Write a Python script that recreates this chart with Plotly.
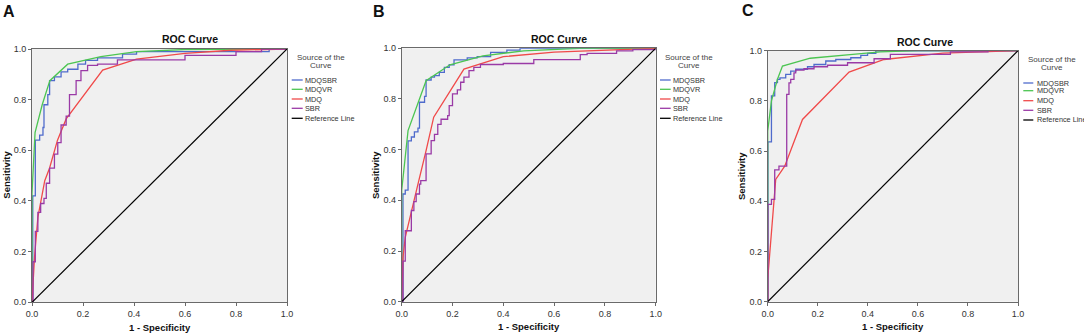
import plotly.graph_objects as go

W, H = 1084, 335

# ---------------- data ----------------
series_names = ["MDQSBR", "MDQVR", "MDQ", "SBR"]
panel_labels = ["A", "B", "C"]
tick_vals = [0.0, 0.2, 0.4, 0.6, 0.8, 1.0]
ref_x = [0, 1]
ref_y = [0, 1]

# Panel A
a_mdqsbr_x = [0, 0.003, 0.013, 0.03, 0.043, 0.047, 0.062, 0.069, 0.088, 0.114, 0.14, 0.18, 0.21, 0.257, 0.355, 0.41, 0.93, 1.0]
a_mdqsbr_y = [0, 0.42, 0.64, 0.66, 0.69, 0.78, 0.82, 0.875, 0.89, 0.91, 0.92, 0.94, 0.955, 0.965, 0.98, 0.99, 1.0, 1.0]
a_mdqvr_x = [0, 0, 0.012, 0.04, 0.07, 0.14, 0.27, 0.41, 0.6, 1.0]
a_mdqvr_y = [0, 0.43, 0.67, 0.78, 0.875, 0.94, 0.97, 0.99, 0.998, 1.0]
a_mdq_x = [0, 0.01, 0.023, 0.05, 0.069, 0.1, 0.134, 0.277, 0.41, 0.6, 0.78, 1.0]
a_mdq_y = [0, 0.18, 0.335, 0.48, 0.53, 0.64, 0.724, 0.917, 0.96, 0.983, 0.995, 1.0]
a_sbr_x = [0, 0.004, 0.013, 0.023, 0.034, 0.047, 0.056, 0.069, 0.088, 0.101, 0.114, 0.134, 0.147, 0.173, 0.192, 0.218, 0.257, 0.335, 0.6, 0.8, 0.9, 1.0]
a_sbr_y = [0, 0.16, 0.28, 0.355, 0.39, 0.41, 0.47, 0.53, 0.585, 0.63, 0.70, 0.735, 0.82, 0.875, 0.915, 0.935, 0.94, 0.957, 0.975, 0.99, 1.0, 1.0]

# Panel B
b_mdqsbr_x = [0, 0.005, 0.014, 0.025, 0.038, 0.05, 0.064, 0.07, 0.09, 0.096, 0.116, 0.129, 0.148, 0.168, 0.187, 0.206, 0.258, 0.297, 0.35, 0.414, 0.466, 1.0]
b_mdqsbr_y = [0, 0.425, 0.44, 0.635, 0.65, 0.67, 0.685, 0.787, 0.81, 0.875, 0.886, 0.892, 0.905, 0.925, 0.935, 0.954, 0.962, 0.967, 0.984, 0.993, 1.0, 1.0]
b_mdqvr_x = [0, 0, 0.025, 0.096, 0.19, 0.32, 0.48, 0.7, 1.0]
b_mdqvr_y = [0, 0.44, 0.675, 0.872, 0.935, 0.97, 0.99, 1.0, 1.0]
b_mdq_x = [0, 0.005, 0.014, 0.038, 0.064, 0.096, 0.126, 0.245, 0.40, 0.6, 0.86, 1.0]
b_mdq_y = [0, 0.175, 0.254, 0.36, 0.464, 0.596, 0.728, 0.918, 0.967, 0.985, 0.995, 1.0]
b_sbr_x = [0, 0.005, 0.014, 0.038, 0.048, 0.057, 0.07, 0.075, 0.096, 0.116, 0.129, 0.142, 0.155, 0.181, 0.187, 0.20, 0.219, 0.232, 0.245, 0.265, 0.284, 0.31, 0.40, 0.52, 0.703, 0.73, 0.846, 0.91, 1.0]
b_sbr_y = [0, 0.16, 0.28, 0.36, 0.395, 0.425, 0.464, 0.478, 0.583, 0.636, 0.66, 0.70, 0.72, 0.734, 0.774, 0.82, 0.836, 0.866, 0.886, 0.912, 0.925, 0.936, 0.94, 0.955, 0.975, 0.98, 0.99, 0.995, 1.0]

# Panel C
c_mdqsbr_x = [0, 0.001, 0.015, 0.028, 0.039, 0.049, 0.072, 0.092, 0.112, 0.159, 0.185, 0.232, 0.272, 0.332, 0.372, 0.399, 0.432, 1.0]
c_mdqsbr_y = [0, 0.637, 0.82, 0.873, 0.886, 0.892, 0.906, 0.919, 0.926, 0.936, 0.945, 0.959, 0.965, 0.972, 0.981, 0.989, 0.999, 1.0]
c_mdqvr_x = [0, 0, 0.015, 0.039, 0.059, 0.17, 0.34, 0.45, 0.6, 1.0]
c_mdqvr_y = [0, 0.68, 0.80, 0.886, 0.939, 0.97, 0.985, 0.995, 1.0, 1.0]
c_mdq_x = [0, 0, 0.032, 0.068, 0.139, 0.325, 0.465, 0.7, 1.0]
c_mdq_y = [0, 0.09, 0.487, 0.54, 0.726, 0.915, 0.965, 0.99, 1.0]
c_sbr_x = [0, 0.001, 0.015, 0.028, 0.045, 0.076, 0.085, 0.092, 0.105, 0.112, 0.145, 0.185, 0.239, 0.319, 0.425, 0.49, 0.73, 0.88, 1.0]
c_sbr_y = [0, 0.388, 0.408, 0.525, 0.54, 0.826, 0.872, 0.886, 0.912, 0.923, 0.928, 0.936, 0.942, 0.952, 0.968, 0.985, 0.995, 1.0, 1.0]

panels = [
    [(a_mdqsbr_x, a_mdqsbr_y), (a_mdqvr_x, a_mdqvr_y), (a_mdq_x, a_mdq_y), (a_sbr_x, a_sbr_y)],
    [(b_mdqsbr_x, b_mdqsbr_y), (b_mdqvr_x, b_mdqvr_y), (b_mdq_x, b_mdq_y), (b_sbr_x, b_sbr_y)],
    [(c_mdqsbr_x, c_mdqsbr_y), (c_mdqvr_x, c_mdqvr_y), (c_mdq_x, c_mdq_y), (c_sbr_x, c_sbr_y)],
]

# ---------------- styles / layout ----------------
colors = ["#4f6bcc", "#4cc552", "#f04a4a", "#9a3aa6"]
shapes_ = ["hv", "linear", "linear", "hv"]
FONT = "Liberation Sans, Arial, sans-serif"

# plot boxes in pixels: (left, right, top, bottom)
boxes = [(32, 287, 49, 302.3), (401.7, 655.7, 48.3, 301.7), (767.7, 1018, 50.7, 301.7)]


def px(x):
    return x / W


def py(y):
    return 1 - y / H


fig = go.Figure()
layout = dict(
    template="none",
    width=W, height=H,
    margin=dict(l=0, r=0, t=0, b=0, pad=0, autoexpand=False),
    paper_bgcolor="white",
    plot_bgcolor="#f0f0f0",
    showlegend=False,
    font=dict(family=FONT, color="#333"),
)
annotations = []
shapes = []

for i, (box, data) in enumerate(zip(boxes, panels)):
    l, r, t, b = box
    sfx = "" if i == 0 else str(i + 1)
    xa, ya = "x" + sfx, "y" + sfx
    ax_common = dict(
        range=[0, 1], tickvals=tick_vals, tickformat=".1f",
        showgrid=False, zeroline=False, showline=True, mirror=True,
        linecolor="#6a6a6a", linewidth=1, ticks="outside", ticklen=3,
        tickcolor="#6a6a6a", tickfont=dict(size=9, color="#333", family=FONT),
        fixedrange=True, automargin=False,
    )
    layout["xaxis" + sfx] = dict(ax_common, domain=[px(l), px(r)], anchor=ya)
    layout["yaxis" + sfx] = dict(ax_common, domain=[py(b), py(t)], anchor=xa)

    for k, (xs, ys) in enumerate(data):
        fig.add_trace(go.Scatter(
            x=xs, y=ys, mode="lines", name=series_names[k],
            line=dict(color=colors[k], width=1.3, shape=shapes_[k]),
            xaxis=xa, yaxis=ya, hoverinfo="skip",
        ))
    fig.add_trace(go.Scatter(
        x=ref_x, y=ref_y, mode="lines", name="Reference Line",
        line=dict(color="black", width=1.2), xaxis=xa, yaxis=ya, hoverinfo="skip",
    ))


def ann(text, x, y, size, color, xanchor="center", **kw):
    annotations.append(dict(text=text, x=px(x), y=py(y), xref="paper", yref="paper",
                            xanchor=xanchor, yanchor="middle", showarrow=False,
                            borderpad=0, font=dict(size=size, color=color, family=FONT), **kw))


# titles, panel letters, axis titles
title_pos = [(190, 39), (559, 39.3), (924.5, 41.7)]
letter_pos = [(9, 11), (379, 11), (748, 10.5)]
ytitle_pos = [(6.7, 175), (376, 175), (741, 176)]
xtitle_pos = [(160, 327.7), (529, 326.7), (893, 326.7)]
for i in range(3):
    ann("<b>ROC Curve</b>", *title_pos[i], 10.5, "#111")
    ann("<b>%s</b>" % panel_labels[i], *letter_pos[i], 16, "#111")
    ann("<b>Sensitivity</b>", *ytitle_pos[i], 9.5, "#111", textangle=-90)
    ann("<b>1 - Specificity</b>", *xtitle_pos[i], 9.5, "#111")

# manual legends (short SPSS-style samples)
legend_cfg = [
    dict(tx=321, ty=(57.3, 65.7), lx=(291.7, 302.7), txt=304, iy=[80, 89.3, 99, 108.3, 118.3]),
    dict(tx=689, ty=(57.3, 65.7), lx=(660, 670.7), txt=672, iy=[80, 89.3, 99, 108.3, 118.3]),
    dict(tx=1051.7, ty=(59.3, 67.3), lx=(1023.3, 1033.3), txt=1035.5, iy=[83, 90.7, 100.7, 110.3, 120]),
]
leg_names = series_names + ["Reference Line"]
leg_colors = colors + ["black"]
for cfg in legend_cfg:
    for line_txt, yy in zip(["Source of the", "Curve"], cfg["ty"]):
        ann(line_txt, cfg["tx"], yy, 8, "#444")
    for name, col, yy in zip(leg_names, leg_colors, cfg["iy"]):
        shapes.append(dict(type="line", xref="paper", yref="paper",
                           x0=px(cfg["lx"][0]), x1=px(cfg["lx"][1]), y0=py(yy), y1=py(yy),
                           line=dict(color=col, width=1.3)))
        ann(name, cfg["txt"], yy, 7.3, "#333", xanchor="left")

layout["annotations"] = annotations
layout["shapes"] = shapes
fig.update_layout(**layout)
fig.write_html("out.html", config={"displayModeBar": False},
               post_script="document.body.style.margin='0px';")
